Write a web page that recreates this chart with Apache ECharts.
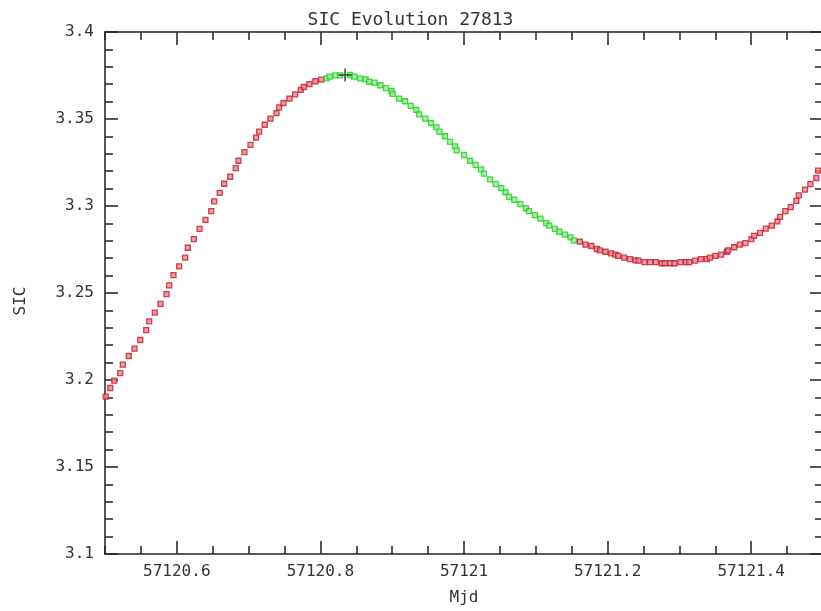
<!DOCTYPE html>
<html>
<head>
<meta charset="utf-8">
<script src="https://cdn.jsdelivr.net/npm/echarts@6/dist/echarts.min.js"></script>
<style>
html,body{margin:0;padding:0;background:#fff;}
#chart-panel{width:821px;height:611px;}
</style>
</head>
<body>
<div id="chart-panel"></div>
<script>
var titleText = 'SIC Evolution 27813';
var xName = 'Mjd';
var yName = 'SIC';
var xMin = 57120.5, xMax = 57121.5;
var yMin = 3.1, yMax = 3.4;
var xMajor = [57120.6, 57120.8, 57121, 57121.2, 57121.4];

// rising part (red)
var redMjdA = [57120.501, 57120.5073, 57120.5129, 57120.5212, 57120.5248, 57120.5332, 57120.5411, 57120.5491, 57120.5574, 57120.5616,
	57120.5694, 57120.5773, 57120.5857, 57120.5894, 57120.5954, 57120.6033, 57120.6117, 57120.6153, 57120.6237, 57120.6316,
	57120.6399, 57120.6479, 57120.6521, 57120.6598, 57120.6660, 57120.6743, 57120.6821, 57120.6859, 57120.6942, 57120.7026,
	57120.7105, 57120.7147, 57120.7225, 57120.7304, 57120.7388, 57120.7425, 57120.7485, 57120.7569, 57120.7648, 57120.7726,
	57120.7768, 57120.7847, 57120.7930, 57120.8010];
var redSicA = [3.1904, 3.1954, 3.1996, 3.2039, 3.2088, 3.2138, 3.2180, 3.2230, 3.2287, 3.2337,
	3.2387, 3.2437, 3.2494, 3.2544, 3.2603, 3.2653, 3.2703, 3.2760, 3.2810, 3.2868,
	3.2920, 3.2970, 3.3027, 3.3076, 3.3128, 3.3168, 3.3218, 3.3260, 3.3310, 3.3351,
	3.3393, 3.3427, 3.3467, 3.3502, 3.3534, 3.3567, 3.3592, 3.3617, 3.3642, 3.3667,
	3.3684, 3.3701, 3.3717, 3.3726];

// green part
var greenMjd = [57120.8088, 57120.8129, 57120.8209, 57120.8274, 57120.8413, 57120.8473, 57120.8553, 57120.8630, 57120.8678, 57120.8752,
	57120.8835, 57120.8914, 57120.8992, 57120.9006, 57120.9095, 57120.9179, 57120.9257, 57120.9336, 57120.9374, 57120.9461,
	57120.9541, 57120.9615, 57120.9656, 57120.9736, 57120.9805, 57120.9875, 57120.9897, 57121.0000, 57121.0084, 57121.0161,
	57121.0237, 57121.0278, 57121.0362, 57121.0440, 57121.0519, 57121.0579, 57121.0626, 57121.0700, 57121.0784, 57121.0863,
	57121.0905, 57121.0988, 57121.1066, 57121.1145, 57121.1187, 57121.1267, 57121.1326, 57121.1406, 57121.1484, 57121.1531];
var greenSic = [3.3734, 3.3743, 3.3751, 3.3751, 3.3753, 3.3743, 3.3734, 3.3728, 3.3714, 3.3709,
	3.3694, 3.3678, 3.3661, 3.3644, 3.3617, 3.3602, 3.3576, 3.3552, 3.3527, 3.3502,
	3.3477, 3.3452, 3.3427, 3.3401, 3.3368, 3.3343, 3.3320, 3.3293, 3.3260, 3.3236,
	3.3211, 3.3186, 3.3153, 3.3126, 3.3103, 3.3079, 3.3053, 3.3036, 3.3011, 3.2987,
	3.2970, 3.2947, 3.2927, 3.2902, 3.2887, 3.2868, 3.2852, 3.2835, 3.2820, 3.2801];

// second red part
var redMjdB = [57121.1615, 57121.1692, 57121.1772, 57121.1851, 57121.1893, 57121.1971, 57121.2050, 57121.2110, 57121.2148, 57121.2231,
	57121.2311, 57121.2388, 57121.2430, 57121.2514, 57121.2593, 57121.2672, 57121.2756, 57121.2797, 57121.2871, 57121.2931,
	57121.3015, 57121.3094, 57121.3136, 57121.3219, 57121.3299, 57121.3382, 57121.3424, 57121.3502, 57121.3581, 57121.3660,
	57121.3678, 57121.3762, 57121.3841, 57121.3919, 57121.4003, 57121.4040, 57121.4124, 57121.4203, 57121.4287, 57121.4365,
	57121.4402, 57121.4476, 57121.4551, 57121.4629, 57121.4663, 57121.4750, 57121.4824, 57121.4907, 57121.4931];
var redSicB = [3.2795, 3.2778, 3.2770, 3.2753, 3.2745, 3.2737, 3.2728, 3.2720, 3.2713, 3.2703,
	3.2695, 3.2688, 3.2686, 3.2678, 3.2678, 3.2678, 3.2671, 3.2671, 3.2671, 3.2671,
	3.2678, 3.2678, 3.2678, 3.2686, 3.2695, 3.2695, 3.2703, 3.2713, 3.2720, 3.2737,
	3.2745, 3.2763, 3.2778, 3.2787, 3.2810, 3.2828, 3.2845, 3.2870, 3.2887, 3.2912,
	3.2937, 3.2970, 3.2994, 3.3029, 3.3061, 3.3094, 3.3126, 3.3161, 3.3203];

var peakMjd = [57120.8344];
var peakSic = [3.3753];

function zip(xs, ys) {
	var res = [];
	for (var i = 0; i < xs.length; i++) {
		res.push([xs[i], ys[i]]);
	}
	return res;
}

var font = 'DejaVu Sans Mono';
var lineStyle = {color: '#222', width: 1.5};

function xAxisCfg(pos, long, labels) {
	var cfg = {
		type: 'value',
		position: pos,
		min: xMin,
		max: xMax,
		scale: true,
		splitLine: {show: false},
		axisLine: {show: !long, onZero: false, lineStyle: lineStyle},
		axisTick: {show: true, inside: true, length: long ? 13 : 8, lineStyle: lineStyle},
		axisLabel: {show: false}
	};
	if (long) {
		cfg.axisTick.customValues = xMajor;
	} else {
		cfg.interval = 0.05;
	}
	if (labels) {
		cfg.axisLabel = {
			show: true,
			margin: 10,
			color: '#333',
			fontFamily: font,
			fontSize: 16,
			showMinLabel: true,
			showMaxLabel: true,
			formatter: function (v) {
				var t = v * 10;
				if (Math.abs(t - Math.round(t)) < 1e-6 && Math.round(t) % 2 === 0 && v > xMin + 0.01 && v < xMax - 0.01) {
					return String(+v.toFixed(1));
				}
				return '';
			}
		};
		cfg.name = xName;
		cfg.nameLocation = 'middle';
		cfg.nameGap = 36;
		cfg.nameTextStyle = {color: '#333', fontFamily: font, fontSize: 16};
	}
	return cfg;
}

function yAxisCfg(pos, labels) {
	var cfg = {
		type: 'value',
		position: pos,
		min: yMin,
		max: yMax,
		interval: 0.05,
		splitLine: {show: false},
		axisLine: {show: labels, onZero: false, lineStyle: lineStyle},
		axisTick: {show: true, inside: true, length: 13, lineStyle: lineStyle},
		minorTick: {show: true, splitNumber: 5, length: 8, lineStyle: lineStyle},
		axisLabel: {show: false}
	};
	if (labels) {
		cfg.axisLabel = {
			show: true,
			margin: 11,
			color: '#333',
			fontFamily: font,
			fontSize: 16,
			formatter: function (v) { return String(+v.toFixed(2)); }
		};
		cfg.name = yName;
		cfg.nameLocation = 'middle';
		cfg.nameGap = 76;
		cfg.nameRotate = 90;
		cfg.nameTextStyle = {color: '#333', fontFamily: font, fontSize: 16, padding: [0, 0, 0, -16]};
	}
	return cfg;
}

function pointSeries(name, data, fill, border) {
	return {
		name: name,
		type: 'scatter',
		xAxisIndex: 0,
		yAxisIndex: 0,
		symbol: 'rect',
		symbolSize: 5,
		clip: true,
		animation: false,
		itemStyle: {color: fill, borderColor: border, borderWidth: 1.3},
		data: data
	};
}

var myChart = echarts.init(document.getElementById('chart-panel'));
var option = {
	backgroundColor: '#fff',
	animation: false,
	title: {
		text: titleText,
		left: 'center',
		top: 6,
		textStyle: {color: '#333', fontFamily: font, fontSize: 18, fontWeight: 'normal'}
	},
	grid: {left: 105, top: 32, width: 718, height: 522, containLabel: false, outerBoundsMode: 'none'},
	xAxis: [
		xAxisCfg('bottom', false, true),
		xAxisCfg('bottom', true, false),
		xAxisCfg('top', false, false),
		xAxisCfg('top', true, false)
	],
	yAxis: [
		yAxisCfg('left', true),
		yAxisCfg('right', false)
	],
	series: [
		pointSeries('red1', zip(redMjdA, redSicA), '#e9868f', '#c41a2b'),
		pointSeries('green', zip(greenMjd, greenSic), '#8ff08f', '#22cc22'),
		pointSeries('red2', zip(redMjdB, redSicB), '#e9868f', '#c41a2b'),
		{
			name: 'peak',
			type: 'scatter',
			symbol: 'path://M6,0 L6,12 M0,6 L12,6',
			symbolSize: 13,
			itemStyle: {color: 'rgba(0,0,0,0)', borderColor: '#111', borderWidth: 1.5},
			z: 5,
			data: zip(peakMjd, peakSic)
		}
	]
};
myChart.setOption(option);
</script>
</body>
</html>
